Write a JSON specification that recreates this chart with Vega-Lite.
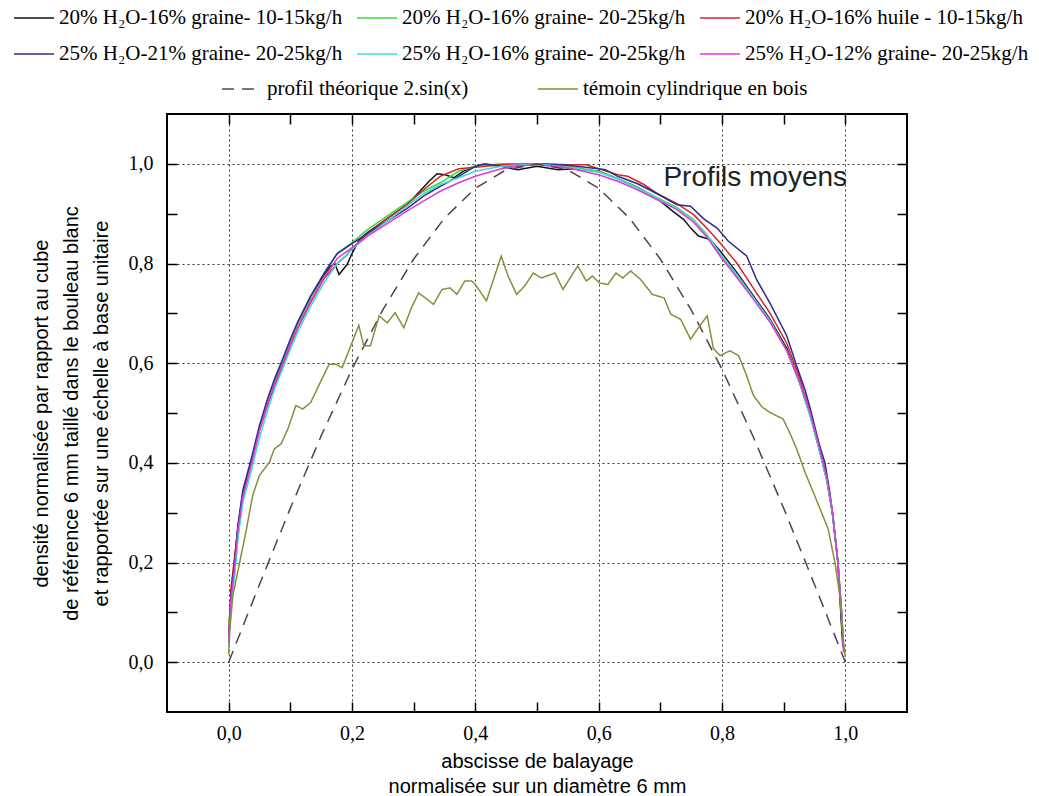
{
"$schema":"https://vega.github.io/schema/vega-lite/v6.json",
"width":740,"height":598,
"padding":{"left":13,"top":7,"right":0,"bottom":0},
"autosize":{"type":"pad"},
"background":"white",
"config":{
 "view":{"stroke":"black","strokeWidth":2},
 "axis":{"domain":false,"tickColor":"black","tickWidth":1.5,"tickSize":10,"offset":-10,"labelFont":"Liberation Serif","labelFontSize":20,"labelColor":"black","titleFont":"Liberation Sans","titleFontSize":20,"titleFontWeight":"normal","titleColor":"black","gridColor":"#333333","gridDash":[2,3],"gridWidth":1},
 "legend":{"labelFont":"Liberation Serif","labelFontSize":21,"labelColor":"black","labelLimit":500,"symbolStrokeWidth":1.5,"symbolType":"M-1,0H3","symbolSize":400,"labelOffset":24,"rowPadding":15}
},
"datasets":{
 "names":[
  {"s":"k","name":"20% H₂O-16% graine- 10-15kg/h"},
  {"s":"g","name":"20% H₂O-16% graine- 20-25kg/h"},
  {"s":"r","name":"20% H₂O-16% huile  - 10-15kg/h"},
  {"s":"b","name":"25% H₂O-21% graine- 20-25kg/h"},
  {"s":"c","name":"25% H₂O-16% graine- 20-25kg/h"},
  {"s":"m","name":"25% H₂O-12% graine- 20-25kg/h"},
  {"s":"t","name":"profil théorique 2.sin(x)"},
  {"s":"w","name":"témoin cylindrique en bois"}
 ],
 "exp":[
  {"s":"k","x":0,"y":0.04},{"s":"k","x":0.004,"y":0.14},{"s":"k","x":0.01,"y":0.21},{"s":"k","x":0.015,"y":0.27},{"s":"k","x":0.023,"y":0.34},{"s":"k","x":0.037,"y":0.405},{"s":"k","x":0.05,"y":0.47},{"s":"k","x":0.063,"y":0.525},{"s":"k","x":0.075,"y":0.565},{"s":"k","x":0.088,"y":0.605},{"s":"k","x":0.1,"y":0.645},{"s":"k","x":0.112,"y":0.68},{"s":"k","x":0.133,"y":0.733},{"s":"k","x":0.155,"y":0.778},{"s":"k","x":0.166,"y":0.795},{"s":"k","x":0.172,"y":0.8},{"s":"k","x":0.179,"y":0.778},{"s":"k","x":0.192,"y":0.798},{"s":"k","x":0.2,"y":0.82},{"s":"k","x":0.212,"y":0.848},{"s":"k","x":0.225,"y":0.862},{"s":"k","x":0.257,"y":0.89},{"s":"k","x":0.289,"y":0.918},{"s":"k","x":0.31,"y":0.945},{"s":"k","x":0.325,"y":0.965},{"s":"k","x":0.338,"y":0.98},{"s":"k","x":0.351,"y":0.978},{"s":"k","x":0.365,"y":0.972},{"s":"k","x":0.38,"y":0.985},{"s":"k","x":0.4,"y":0.995},{"s":"k","x":0.42,"y":0.998},{"s":"k","x":0.442,"y":0.995},{"s":"k","x":0.469,"y":0.988},{"s":"k","x":0.5,"y":0.995},{"s":"k","x":0.534,"y":0.988},{"s":"k","x":0.56,"y":0.99},{"s":"k","x":0.6,"y":0.985},{"s":"k","x":0.631,"y":0.97},{"s":"k","x":0.663,"y":0.953},{"s":"k","x":0.695,"y":0.93},{"s":"k","x":0.72,"y":0.905},{"s":"k","x":0.738,"y":0.888},{"s":"k","x":0.75,"y":0.87},{"s":"k","x":0.762,"y":0.855},{"s":"k","x":0.781,"y":0.848},{"s":"k","x":0.797,"y":0.825},{"s":"k","x":0.824,"y":0.782},{"s":"k","x":0.851,"y":0.735},{"s":"k","x":0.878,"y":0.688},{"s":"k","x":0.905,"y":0.63},{"s":"k","x":0.926,"y":0.56},{"s":"k","x":0.943,"y":0.495},{"s":"k","x":0.957,"y":0.43},{"s":"k","x":0.97,"y":0.365},{"s":"k","x":0.979,"y":0.3},{"s":"k","x":0.988,"y":0.2},{"s":"k","x":0.994,"y":0.07},{"s":"k","x":0.996,"y":0.03},
  {"s":"g","x":0,"y":0.08},{"s":"g","x":0.004,"y":0.12},{"s":"g","x":0.01,"y":0.18},{"s":"g","x":0.015,"y":0.25},{"s":"g","x":0.023,"y":0.33},{"s":"g","x":0.037,"y":0.4},{"s":"g","x":0.05,"y":0.468},{"s":"g","x":0.063,"y":0.523},{"s":"g","x":0.075,"y":0.567},{"s":"g","x":0.088,"y":0.607},{"s":"g","x":0.1,"y":0.645},{"s":"g","x":0.112,"y":0.68},{"s":"g","x":0.133,"y":0.733},{"s":"g","x":0.155,"y":0.782},{"s":"g","x":0.176,"y":0.82},{"s":"g","x":0.2,"y":0.842},{"s":"g","x":0.225,"y":0.868},{"s":"g","x":0.257,"y":0.895},{"s":"g","x":0.289,"y":0.922},{"s":"g","x":0.316,"y":0.945},{"s":"g","x":0.343,"y":0.962},{"s":"g","x":0.373,"y":0.985},{"s":"g","x":0.4,"y":0.995},{"s":"g","x":0.442,"y":1.0},{"s":"g","x":0.5,"y":1.0},{"s":"g","x":0.55,"y":0.995},{"s":"g","x":0.6,"y":0.985},{"s":"g","x":0.631,"y":0.97},{"s":"g","x":0.663,"y":0.952},{"s":"g","x":0.695,"y":0.932},{"s":"g","x":0.727,"y":0.912},{"s":"g","x":0.754,"y":0.888},{"s":"g","x":0.776,"y":0.855},{"s":"g","x":0.797,"y":0.815},{"s":"g","x":0.824,"y":0.775},{"s":"g","x":0.851,"y":0.73},{"s":"g","x":0.878,"y":0.685},{"s":"g","x":0.905,"y":0.625},{"s":"g","x":0.926,"y":0.56},{"s":"g","x":0.943,"y":0.495},{"s":"g","x":0.957,"y":0.43},{"s":"g","x":0.97,"y":0.365},{"s":"g","x":0.979,"y":0.3},{"s":"g","x":0.988,"y":0.2},{"s":"g","x":0.994,"y":0.1},{"s":"g","x":0.997,"y":0.04},
  {"s":"r","x":0,"y":0.05},{"s":"r","x":0.004,"y":0.15},{"s":"r","x":0.01,"y":0.215},{"s":"r","x":0.015,"y":0.27},{"s":"r","x":0.023,"y":0.335},{"s":"r","x":0.037,"y":0.4},{"s":"r","x":0.05,"y":0.465},{"s":"r","x":0.063,"y":0.515},{"s":"r","x":0.075,"y":0.555},{"s":"r","x":0.088,"y":0.595},{"s":"r","x":0.1,"y":0.635},{"s":"r","x":0.112,"y":0.67},{"s":"r","x":0.133,"y":0.722},{"s":"r","x":0.155,"y":0.77},{"s":"r","x":0.176,"y":0.8},{"s":"r","x":0.19,"y":0.815},{"s":"r","x":0.2,"y":0.83},{"s":"r","x":0.225,"y":0.86},{"s":"r","x":0.257,"y":0.89},{"s":"r","x":0.289,"y":0.918},{"s":"r","x":0.316,"y":0.948},{"s":"r","x":0.343,"y":0.975},{"s":"r","x":0.373,"y":0.99},{"s":"r","x":0.4,"y":0.993},{"s":"r","x":0.442,"y":0.998},{"s":"r","x":0.5,"y":1.0},{"s":"r","x":0.55,"y":0.998},{"s":"r","x":0.58,"y":0.998},{"s":"r","x":0.6,"y":0.99},{"s":"r","x":0.631,"y":0.978},{"s":"r","x":0.647,"y":0.975},{"s":"r","x":0.674,"y":0.958},{"s":"r","x":0.695,"y":0.94},{"s":"r","x":0.727,"y":0.92},{"s":"r","x":0.754,"y":0.898},{"s":"r","x":0.776,"y":0.87},{"s":"r","x":0.797,"y":0.841},{"s":"r","x":0.824,"y":0.801},{"s":"r","x":0.851,"y":0.75},{"s":"r","x":0.878,"y":0.7},{"s":"r","x":0.905,"y":0.64},{"s":"r","x":0.926,"y":0.57},{"s":"r","x":0.943,"y":0.5},{"s":"r","x":0.957,"y":0.44},{"s":"r","x":0.97,"y":0.37},{"s":"r","x":0.979,"y":0.3},{"s":"r","x":0.988,"y":0.2},{"s":"r","x":0.994,"y":0.1},{"s":"r","x":0.997,"y":0.03},
  {"s":"b","x":0,"y":0.04},{"s":"b","x":0.004,"y":0.14},{"s":"b","x":0.01,"y":0.205},{"s":"b","x":0.015,"y":0.275},{"s":"b","x":0.023,"y":0.345},{"s":"b","x":0.037,"y":0.41},{"s":"b","x":0.05,"y":0.475},{"s":"b","x":0.063,"y":0.528},{"s":"b","x":0.075,"y":0.57},{"s":"b","x":0.088,"y":0.61},{"s":"b","x":0.1,"y":0.648},{"s":"b","x":0.112,"y":0.683},{"s":"b","x":0.133,"y":0.735},{"s":"b","x":0.155,"y":0.78},{"s":"b","x":0.176,"y":0.82},{"s":"b","x":0.2,"y":0.84},{"s":"b","x":0.225,"y":0.86},{"s":"b","x":0.257,"y":0.885},{"s":"b","x":0.289,"y":0.91},{"s":"b","x":0.316,"y":0.935},{"s":"b","x":0.343,"y":0.955},{"s":"b","x":0.373,"y":0.975},{"s":"b","x":0.4,"y":0.995},{"s":"b","x":0.415,"y":1.0},{"s":"b","x":0.442,"y":0.995},{"s":"b","x":0.47,"y":0.995},{"s":"b","x":0.5,"y":1.0},{"s":"b","x":0.55,"y":0.997},{"s":"b","x":0.6,"y":0.99},{"s":"b","x":0.611,"y":0.988},{"s":"b","x":0.631,"y":0.975},{"s":"b","x":0.663,"y":0.96},{"s":"b","x":0.695,"y":0.94},{"s":"b","x":0.727,"y":0.918},{"s":"b","x":0.749,"y":0.915},{"s":"b","x":0.77,"y":0.89},{"s":"b","x":0.792,"y":0.871},{"s":"b","x":0.81,"y":0.845},{"s":"b","x":0.84,"y":0.815},{"s":"b","x":0.856,"y":0.768},{"s":"b","x":0.878,"y":0.72},{"s":"b","x":0.905,"y":0.655},{"s":"b","x":0.921,"y":0.595},{"s":"b","x":0.935,"y":0.545},{"s":"b","x":0.945,"y":0.5},{"s":"b","x":0.957,"y":0.44},{"s":"b","x":0.967,"y":0.4},{"s":"b","x":0.975,"y":0.34},{"s":"b","x":0.981,"y":0.28},{"s":"b","x":0.988,"y":0.2},{"s":"b","x":0.993,"y":0.1},{"s":"b","x":0.996,"y":0.04},
  {"s":"c","x":0,"y":0.03},{"s":"c","x":0.004,"y":0.11},{"s":"c","x":0.01,"y":0.18},{"s":"c","x":0.015,"y":0.25},{"s":"c","x":0.023,"y":0.32},{"s":"c","x":0.037,"y":0.385},{"s":"c","x":0.05,"y":0.45},{"s":"c","x":0.063,"y":0.505},{"s":"c","x":0.075,"y":0.55},{"s":"c","x":0.088,"y":0.59},{"s":"c","x":0.1,"y":0.628},{"s":"c","x":0.112,"y":0.662},{"s":"c","x":0.133,"y":0.715},{"s":"c","x":0.155,"y":0.762},{"s":"c","x":0.176,"y":0.8},{"s":"c","x":0.2,"y":0.828},{"s":"c","x":0.225,"y":0.855},{"s":"c","x":0.257,"y":0.885},{"s":"c","x":0.289,"y":0.915},{"s":"c","x":0.316,"y":0.94},{"s":"c","x":0.343,"y":0.958},{"s":"c","x":0.373,"y":0.972},{"s":"c","x":0.4,"y":0.985},{"s":"c","x":0.442,"y":0.995},{"s":"c","x":0.5,"y":1.0},{"s":"c","x":0.55,"y":0.993},{"s":"c","x":0.6,"y":0.983},{"s":"c","x":0.631,"y":0.97},{"s":"c","x":0.663,"y":0.952},{"s":"c","x":0.695,"y":0.93},{"s":"c","x":0.727,"y":0.91},{"s":"c","x":0.754,"y":0.888},{"s":"c","x":0.776,"y":0.858},{"s":"c","x":0.797,"y":0.82},{"s":"c","x":0.824,"y":0.778},{"s":"c","x":0.851,"y":0.732},{"s":"c","x":0.878,"y":0.685},{"s":"c","x":0.905,"y":0.625},{"s":"c","x":0.926,"y":0.56},{"s":"c","x":0.943,"y":0.495},{"s":"c","x":0.957,"y":0.43},{"s":"c","x":0.97,"y":0.365},{"s":"c","x":0.979,"y":0.3},{"s":"c","x":0.988,"y":0.2},{"s":"c","x":0.994,"y":0.1},{"s":"c","x":0.997,"y":0.03},
  {"s":"m","x":0,"y":0.04},{"s":"m","x":0.004,"y":0.13},{"s":"m","x":0.01,"y":0.195},{"s":"m","x":0.015,"y":0.265},{"s":"m","x":0.023,"y":0.332},{"s":"m","x":0.037,"y":0.398},{"s":"m","x":0.05,"y":0.465},{"s":"m","x":0.063,"y":0.518},{"s":"m","x":0.075,"y":0.56},{"s":"m","x":0.088,"y":0.6},{"s":"m","x":0.1,"y":0.638},{"s":"m","x":0.112,"y":0.672},{"s":"m","x":0.133,"y":0.725},{"s":"m","x":0.155,"y":0.772},{"s":"m","x":0.176,"y":0.81},{"s":"m","x":0.2,"y":0.832},{"s":"m","x":0.225,"y":0.855},{"s":"m","x":0.257,"y":0.88},{"s":"m","x":0.289,"y":0.905},{"s":"m","x":0.316,"y":0.925},{"s":"m","x":0.343,"y":0.945},{"s":"m","x":0.373,"y":0.962},{"s":"m","x":0.4,"y":0.975},{"s":"m","x":0.442,"y":0.99},{"s":"m","x":0.47,"y":0.996},{"s":"m","x":0.5,"y":0.998},{"s":"m","x":0.55,"y":0.992},{"s":"m","x":0.6,"y":0.978},{"s":"m","x":0.631,"y":0.965},{"s":"m","x":0.663,"y":0.948},{"s":"m","x":0.695,"y":0.928},{"s":"m","x":0.727,"y":0.908},{"s":"m","x":0.754,"y":0.883},{"s":"m","x":0.776,"y":0.852},{"s":"m","x":0.797,"y":0.815},{"s":"m","x":0.824,"y":0.772},{"s":"m","x":0.851,"y":0.728},{"s":"m","x":0.878,"y":0.682},{"s":"m","x":0.905,"y":0.625},{"s":"m","x":0.926,"y":0.562},{"s":"m","x":0.943,"y":0.5},{"s":"m","x":0.957,"y":0.435},{"s":"m","x":0.97,"y":0.37},{"s":"m","x":0.979,"y":0.305},{"s":"m","x":0.988,"y":0.2},{"s":"m","x":0.994,"y":0.1},{"s":"m","x":0.997,"y":0.02}
 ],
 "ref":[
  {"s":"t","x":0,"y":0},{"s":"t","x":0.05,"y":0.156},{"s":"t","x":0.1,"y":0.309},{"s":"t","x":0.15,"y":0.454},{"s":"t","x":0.2,"y":0.588},{"s":"t","x":0.25,"y":0.707},{"s":"t","x":0.3,"y":0.809},{"s":"t","x":0.35,"y":0.891},{"s":"t","x":0.4,"y":0.951},{"s":"t","x":0.45,"y":0.988},{"s":"t","x":0.5,"y":1.0},{"s":"t","x":0.55,"y":0.988},{"s":"t","x":0.6,"y":0.951},{"s":"t","x":0.65,"y":0.891},{"s":"t","x":0.7,"y":0.809},{"s":"t","x":0.75,"y":0.707},{"s":"t","x":0.8,"y":0.588},{"s":"t","x":0.85,"y":0.454},{"s":"t","x":0.9,"y":0.309},{"s":"t","x":0.95,"y":0.156},{"s":"t","x":1.0,"y":0},
  {"s":"w","x":0,"y":0.015},{"s":"w","x":0.002,"y":0.068},{"s":"w","x":0.007,"y":0.135},{"s":"w","x":0.018,"y":0.201},{"s":"w","x":0.029,"y":0.268},{"s":"w","x":0.039,"y":0.335},{"s":"w","x":0.05,"y":0.375},{"s":"w","x":0.066,"y":0.401},{"s":"w","x":0.074,"y":0.428},{"s":"w","x":0.085,"y":0.438},{"s":"w","x":0.096,"y":0.468},{"s":"w","x":0.109,"y":0.515},{"s":"w","x":0.12,"y":0.508},{"s":"w","x":0.133,"y":0.521},{"s":"w","x":0.148,"y":0.56},{"s":"w","x":0.163,"y":0.598},{"s":"w","x":0.174,"y":0.598},{"s":"w","x":0.184,"y":0.591},{"s":"w","x":0.2,"y":0.641},{"s":"w","x":0.211,"y":0.676},{"s":"w","x":0.219,"y":0.635},{"s":"w","x":0.23,"y":0.635},{"s":"w","x":0.244,"y":0.695},{"s":"w","x":0.257,"y":0.681},{"s":"w","x":0.27,"y":0.701},{"s":"w","x":0.284,"y":0.671},{"s":"w","x":0.296,"y":0.71},{"s":"w","x":0.308,"y":0.741},{"s":"w","x":0.32,"y":0.73},{"s":"w","x":0.332,"y":0.718},{"s":"w","x":0.346,"y":0.748},{"s":"w","x":0.359,"y":0.751},{"s":"w","x":0.37,"y":0.738},{"s":"w","x":0.383,"y":0.765},{"s":"w","x":0.394,"y":0.765},{"s":"w","x":0.4,"y":0.758},{"s":"w","x":0.418,"y":0.725},{"s":"w","x":0.442,"y":0.815},{"s":"w","x":0.453,"y":0.775},{"s":"w","x":0.467,"y":0.738},{"s":"w","x":0.48,"y":0.755},{"s":"w","x":0.494,"y":0.781},{"s":"w","x":0.507,"y":0.771},{"s":"w","x":0.518,"y":0.776},{"s":"w","x":0.529,"y":0.781},{"s":"w","x":0.542,"y":0.748},{"s":"w","x":0.566,"y":0.795},{"s":"w","x":0.58,"y":0.765},{"s":"w","x":0.59,"y":0.775},{"s":"w","x":0.601,"y":0.761},{"s":"w","x":0.615,"y":0.758},{"s":"w","x":0.628,"y":0.781},{"s":"w","x":0.639,"y":0.771},{"s":"w","x":0.652,"y":0.785},{"s":"w","x":0.668,"y":0.768},{"s":"w","x":0.687,"y":0.738},{"s":"w","x":0.706,"y":0.731},{"s":"w","x":0.717,"y":0.698},{"s":"w","x":0.733,"y":0.688},{"s":"w","x":0.749,"y":0.648},{"s":"w","x":0.76,"y":0.668},{"s":"w","x":0.776,"y":0.695},{"s":"w","x":0.786,"y":0.63},{"s":"w","x":0.797,"y":0.615},{"s":"w","x":0.813,"y":0.625},{"s":"w","x":0.827,"y":0.615},{"s":"w","x":0.84,"y":0.575},{"s":"w","x":0.851,"y":0.535},{"s":"w","x":0.865,"y":0.512},{"s":"w","x":0.878,"y":0.501},{"s":"w","x":0.899,"y":0.488},{"s":"w","x":0.91,"y":0.46},{"s":"w","x":0.921,"y":0.428},{"s":"w","x":0.935,"y":0.38},{"s":"w","x":0.95,"y":0.335},{"s":"w","x":0.972,"y":0.268},{"s":"w","x":0.983,"y":0.201},{"s":"w","x":0.991,"y":0.135},{"s":"w","x":0.997,"y":0.041},{"s":"w","x":1.0,"y":0.01}
 ],
 "note":[{"x":0.705,"y":0.972,"t":"Profils moyens"}]
},
"layer":[
 {
  "data":{"name":"exp"},
  "transform":[{"lookup":"s","from":{"data":{"name":"names"},"key":"s","fields":["name"]}}],
  "mark":{"type":"line","strokeWidth":1.5},
  "encoding":{
   "x":{"field":"x","type":"quantitative","scale":{"domain":[-0.1,1.1],"nice":false,"zero":false},
    "axis":{"orient":"bottom","values":[0,0.1,0.2,0.3,0.4,0.5,0.6,0.7,0.8,0.9,1.0],
     "labelExpr":"round(datum.value*10) % 2 == 0 ? replace(format(datum.value,'.1f'),'.',',') : ''",
     "grid":false,"labelPadding":11,"labelFlush":false,
     "title":["abscisse de balayage","normalisée sur un diamètre 6 mm"],"titleLineHeight":25,"titlePadding":8}},
   "y":{"field":"y","type":"quantitative","scale":{"domain":[-0.1,1.1],"nice":false,"zero":false},
    "axis":{"orient":"left","values":[0,0.1,0.2,0.3,0.4,0.5,0.6,0.7,0.8,0.9,1.0],
     "labelExpr":"round(datum.value*10) % 2 == 0 ? replace(format(datum.value,'.1f'),'.',',') : ''",
     "grid":false,"labelPadding":14,"labelFlush":false,
     "title":["densité normalisée par rapport au cube","de référence 6 mm taillé dans le bouleau blanc","et rapportée sur une échelle à base unitaire"],"titleLineHeight":30,"titlePadding":17}},
   "color":{"field":"name","type":"nominal",
    "scale":{"domain":["20% H₂O-16% graine- 10-15kg/h","25% H₂O-21% graine- 20-25kg/h","20% H₂O-16% graine- 20-25kg/h","25% H₂O-16% graine- 20-25kg/h","20% H₂O-16% huile  - 10-15kg/h","25% H₂O-12% graine- 20-25kg/h"],
     "range":["#141414","#2c2c90","#3ad83a","#3fdcdc","#dc2424","#dc3cdc"]},
    "legend":{"title":null,"orient":"none","legendX":-154,"legendY":-107,"columns":3,"columnPadding":11}}
  }
 },
 {
  "data":{"name":"ref"},
  "transform":[{"lookup":"s","from":{"data":{"name":"names"},"key":"s","fields":["name"]}}],
  "mark":{"type":"line","strokeWidth":1.5},
  "encoding":{
   "x":{"field":"x","type":"quantitative","axis":{"orient":"bottom","offset":0,"values":[0,0.2,0.4,0.6,0.8,1.0],"labels":false,"ticks":false,"grid":true,"title":null}},
   "y":{"field":"y","type":"quantitative","axis":{"orient":"left","offset":0,"values":[0,0.2,0.4,0.6,0.8,1.0],"labels":false,"ticks":false,"grid":true,"title":null}},
   "color":{"field":"name","type":"nominal",
    "scale":{"domain":["profil théorique 2.sin(x)","témoin cylindrique en bois"],"range":["#5a3f4c","#8c8c3e"]},
    "legend":{"title":null,"orient":"none","legendX":54,"legendY":-36,"columns":2,"columnPadding":66,
     "encode":{"symbols":{"update":{"strokeDash":{"signal":"datum.value == 'profil théorique 2.sin(x)' ? [5,4] : [1,0]"}}}}}},
   "strokeDash":{"field":"name","type":"nominal",
    "scale":{"domain":["profil théorique 2.sin(x)","témoin cylindrique en bois"],"range":[[12,8],[1,0]]},
    "legend":{"title":null,"orient":"none","legendX":54,"legendY":-36,"columns":2,"columnPadding":66}}
  }
 },
 {
  "data":{"name":"note"},
  "mark":{"type":"text","align":"left","baseline":"middle","font":"Liberation Sans","fontSize":28,"color":"#222222"},
  "encoding":{
   "x":{"field":"x","type":"quantitative","axis":{"orient":"top","values":[0,0.1,0.2,0.3,0.4,0.5,0.6,0.7,0.8,0.9,1.0],"labels":false,"grid":false,"title":null}},
   "y":{"field":"y","type":"quantitative","axis":{"orient":"right","values":[0,0.1,0.2,0.3,0.4,0.5,0.6,0.7,0.8,0.9,1.0],"labels":false,"grid":false,"title":null}},
   "text":{"field":"t"}
  }
 }
],
"resolve":{"scale":{"color":"independent","strokeDash":"independent"},"axis":{"x":"independent","y":"independent"}}
}
